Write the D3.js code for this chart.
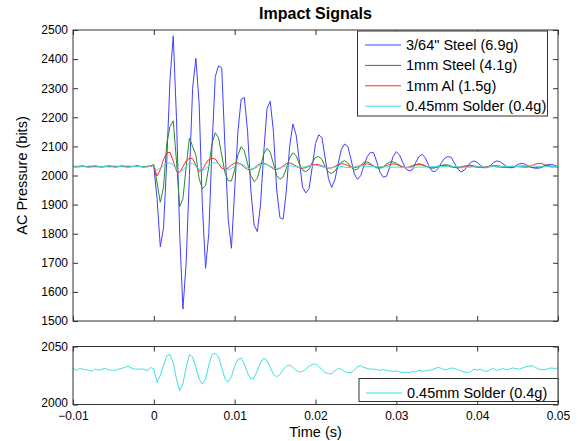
<!DOCTYPE html>
<html>
<head>
<meta charset="utf-8">
<script src="https://cdnjs.cloudflare.com/ajax/libs/d3/7.8.5/d3.min.js"></script>
<style>
    body { margin: 0; background: #fff; }
    svg text { font-family: "Liberation Sans", Arial, Helvetica, sans-serif; fill: #000; }
</style>
</head>
<body>
<div id="chart"></div>
<script>
// sampled signals: first sample at -10 ms, one sample every 0.4 ms
const timeStart = -0.01;
const sampleStep = 0.0004;

const xTicks = [-0.01, 0, 0.01, 0.02, 0.03, 0.04, 0.05];
const topYTicks = [1500, 1600, 1700, 1800, 1900, 2000, 2100, 2200, 2300, 2400, 2500];
const bottomYTicks = [2000, 2050];
const seriesNames = ["3/64\" Steel (6.9g)", "1mm Steel (4.1g)", "1mm Al (1.5g)", "0.45mm Solder (0.4g)"];

const steel364 = [
    2031, 2031, 2030, 2031, 2031, 2032, 2031, 2030, 2031, 2031, 2031, 2030, 2031, 2032, 2031, 2031, 2030, 2031, 2031, 2031, 2032, 2031, 2030, 2031, 2031,
    2031, 1920, 1755, 1820, 2050, 2330, 2480, 2200, 1800, 1541,
    1700, 2000, 2300, 2403, 2250, 1900, 1681, 1800, 2100, 2340,
    2377, 2370, 2100, 1850, 1750, 1950, 2150, 2262, 2268, 2150,
    1950, 1830, 1807, 1900, 2080, 2230, 2255, 2150, 1950, 1855,
    1850, 1950, 2100, 2177, 2140, 2050, 1960, 1940, 1955, 2030,
    2110, 2140, 2130, 2060, 1990, 1959, 1985, 2040, 2090, 2108,
    2100, 2055, 2005, 1987, 2000, 2035, 2065, 2080, 2078, 2045,
    2010, 1994, 1998, 2030, 2065, 2082, 2070, 2045, 2022, 2016,
    2020, 2045, 2065, 2073, 2060, 2035, 2016, 2013, 2025, 2045,
    2060, 2065, 2062, 2042, 2022, 2013, 2018, 2032, 2045, 2050,
    2045, 2035, 2027, 2027, 2033, 2044, 2050, 2048, 2040, 2032,
    2027, 2027, 2034, 2040, 2042, 2038, 2032, 2027, 2025, 2025,
    2028, 2035, 2038, 2038, 2035, 2030
];
const steel1mm = [
    2032, 2031, 2032, 2033, 2031, 2030, 2032, 2033, 2031, 2030, 2032, 2033, 2032, 2030, 2031, 2033, 2032, 2030, 2031, 2032, 2033, 2031, 2030, 2032, 2033,
    2038, 1975, 1908, 1960, 2110, 2168, 2188, 2050, 1893, 1920,
    2030, 2128, 2100, 2070, 1990, 1954, 1965, 2030, 2110, 2147,
    2130, 2070, 2010, 1982, 1981, 2020, 2070, 2099, 2085, 2040,
    2000, 1979, 1990, 2030, 2075, 2093, 2080, 2040, 2000, 1987,
    1995, 2025, 2060, 2078, 2068, 2040, 2018, 2013, 2022, 2045,
    2062, 2065, 2055, 2030, 2012, 2007, 2015, 2032, 2046, 2051,
    2043, 2028, 2019, 2022, 2035, 2045, 2047, 2040, 2032, 2026,
    2025, 2030, 2040, 2046, 2047, 2042, 2035, 2029, 2027, 2029,
    2034, 2038, 2040, 2038, 2033, 2028, 2025, 2026, 2030, 2035,
    2037, 2036, 2032, 2028, 2026, 2027, 2031, 2034, 2035, 2033,
    2030, 2028, 2027, 2028, 2031, 2033, 2034, 2032, 2030, 2028,
    2027, 2028, 2030, 2032, 2033, 2032, 2030, 2028, 2027, 2029,
    2031, 2033, 2034, 2032, 2030, 2029
];
const al1mm = [
    2030, 2029, 2031, 2032, 2030, 2029, 2031, 2032, 2030, 2029, 2030, 2032, 2031, 2029, 2030, 2032, 2031, 2029, 2030, 2031, 2032, 2030, 2029, 2031, 2031,
    2031, 1998, 2020, 2055, 2078, 2080, 2050, 2015, 2010, 2030,
    2050, 2059, 2058, 2035, 2014, 2018, 2040, 2055, 2059, 2057,
    2040, 2025, 2021, 2026, 2036, 2043, 2044, 2038, 2028, 2021,
    2019, 2025, 2035, 2041, 2042, 2038, 2030, 2023, 2021, 2024,
    2033, 2041, 2043, 2039, 2032, 2027, 2025, 2027, 2032, 2036,
    2038, 2038, 2033, 2028, 2025, 2026, 2031, 2037, 2041, 2039,
    2034, 2029, 2027, 2029, 2034, 2038, 2040, 2037, 2032, 2029,
    2028, 2030, 2034, 2038, 2040, 2038, 2033, 2029, 2027, 2029,
    2033, 2036, 2038, 2036, 2032, 2029, 2028, 2029, 2032, 2034,
    2034, 2032, 2029, 2028, 2028, 2030, 2032, 2033, 2032, 2030,
    2028, 2028, 2029, 2031, 2032, 2032, 2030, 2029, 2028, 2029,
    2031, 2032, 2031, 2030, 2029, 2028, 2030, 2034, 2039, 2042,
    2041, 2036, 2031, 2029, 2030, 2031
];
const solder045 = [
    2031.3, 2029.5, 2031, 2030.5, 2030, 2029.5, 2029, 2030.5, 2029.5, 2030.5, 2031, 2030, 2029.5, 2029.5, 2030.5, 2031, 2032, 2033, 2031.5, 2030.5, 2030.5, 2030.5, 2030.5, 2029, 2032,
    2030.5, 2019, 2025, 2034, 2042, 2043, 2036, 2022, 2012, 2018,
    2032, 2043, 2041, 2032, 2022, 2017.5, 2022, 2034, 2043, 2044,
    2041, 2032, 2022, 2019.5, 2024, 2033, 2039, 2040, 2035, 2027,
    2022, 2023, 2029, 2036, 2040, 2038, 2032, 2026, 2024, 2026,
    2030, 2033, 2034, 2032, 2029.5, 2028, 2028.5, 2030.5, 2033, 2034.5,
    2035, 2033, 2030, 2027.5, 2026.5, 2026.5, 2029, 2031, 2030.5, 2028.5,
    2027.5, 2027.5, 2029.5, 2032.5, 2033.5, 2032, 2031, 2030.5, 2030.5, 2030,
    2029.5, 2030, 2029.5, 2029, 2028.5, 2029, 2028, 2027.5, 2028, 2027.5,
    2028.5, 2028, 2029.5, 2028.5, 2029, 2029.5, 2030, 2031, 2032, 2031,
    2030, 2030.5, 2031.5, 2031, 2030, 2029, 2028, 2027.5, 2028.5, 2030.5,
    2029.5, 2030.5, 2029, 2028.5, 2030, 2031, 2029.5, 2030, 2031, 2030,
    2030.5, 2031.5, 2031, 2030.5, 2031.5, 2032.5, 2033, 2033.5, 2032, 2030.5,
    2030, 2030, 2031, 2031.5, 2031, 2031.5
];

const colors = ["#4040ff", "#2a8a2a", "#ff2a2a", "#40e0e0"];

const Plotting = function () {
    const width = 578;
    const height = 441;
    const left = 73, right = 558;
    const topPanel = {top: 30, bottom: 321};
    const bottomPanel = {top: 346.5, bottom: 404.5};
    const tickLen = 5;

    const svg = d3.select("#chart")
                .append("svg")
                .attr("width", width)
                .attr("height", height);

    const xScale = d3.scaleLinear().domain([-0.01, 0.05]).range([left, right]);
    const yTop = d3.scaleLinear().domain([1500, 2500]).range([topPanel.bottom, topPanel.top]);
    const yBottom = d3.scaleLinear().domain([2000, 2050]).range([bottomPanel.bottom, bottomPanel.top]);

    const toPoints = arr => arr.map((v, i) => ({t: timeStart + i * sampleStep, v: v}));

    const drawAxes = function (yScale, panel, yTicks, withXLabels) {
        const yLabels = svg.append("g")
            .attr("transform", `translate(${left},0)`)
            .call(d3.axisLeft(yScale).tickValues(yTicks).tickSizeInner(-tickLen).tickSizeOuter(0).tickPadding(5).tickFormat(d3.format("d")))
            .call(g => g.select(".domain").remove())
            .selectAll("text").style("font-size", "12px");
        if (withXLabels) {
            // lowest label sits just above the corner label -0.01
            yLabels.filter(d => d === yTicks[0]).attr("dy", "0.15em");
        }
        svg.append("g")
            .attr("transform", `translate(${right},0)`)
            .call(d3.axisRight(yScale).tickValues(yTicks).tickSizeInner(-tickLen).tickSizeOuter(0).tickFormat(""))
            .call(g => g.select(".domain").remove());
        svg.append("g")
            .attr("transform", `translate(0,${panel.top})`)
            .call(d3.axisTop(xScale).tickValues(xTicks).tickSizeInner(-tickLen).tickSizeOuter(0).tickFormat(""))
            .call(g => g.select(".domain").remove());
        svg.append("g")
            .attr("transform", `translate(0,${panel.bottom})`)
            .call(d3.axisBottom(xScale).tickValues(xTicks).tickSizeInner(-tickLen).tickSizeOuter(0).tickPadding(7)
                .tickFormat(withXLabels ? d3.format(".2~f") : ""))
            .call(g => g.select(".domain").remove())
            .selectAll("text").style("font-size", "12px");
        svg.selectAll(".tick line").attr("stroke", "#333");
        svg.append("rect")
            .attr("x", left)
            .attr("y", panel.top)
            .attr("width", right - left)
            .attr("height", panel.bottom - panel.top)
            .attr("fill", "none")
            .attr("stroke", "#333")
            .attr("stroke-width", 1);
    };

    const lineTop = d3.line().x(d => xScale(d.t)).y(d => yTop(d.v));
    const lineBottom = d3.line().x(d => xScale(d.t)).y(d => yBottom(d.v));

    [steel364, steel1mm, al1mm, solder045].forEach((arr, i) => {
        svg.append("path")
            .attr("d", lineTop(toPoints(arr)))
            .attr("fill", "none")
            .attr("stroke", colors[i])
            .attr("stroke-width", 1)
            .attr("stroke-linejoin", "round");
    });
    svg.append("path")
        .attr("d", lineBottom(toPoints(solder045)))
        .attr("fill", "none")
        .attr("stroke", colors[3])
        .attr("stroke-width", 1)
        .attr("stroke-linejoin", "round");

    drawAxes(yTop, topPanel, topYTicks, false);
    drawAxes(yBottom, bottomPanel, bottomYTicks, true);

    // legend, top panel
    const legend = svg.append("g");
    legend.append("rect")
        .attr("x", 357.5).attr("y", 31)
        .attr("width", 190).attr("height", 85)
        .attr("fill", "#fff").attr("stroke", "#333");
    seriesNames.forEach((name, i) => {
        const cy = 45 + i * 20.4;
        legend.append("line")
            .attr("x1", 365).attr("x2", 401).attr("y1", cy).attr("y2", cy)
            .attr("stroke", colors[i]).attr("stroke-width", 1);
        legend.append("text")
            .attr("x", 406).attr("y", cy + 5)
            .style("font-size", "14.5px")
            .text(name);
    });

    // legend, bottom panel
    const legend2 = svg.append("g");
    legend2.append("rect")
        .attr("x", 359).attr("y", 378.5)
        .attr("width", 199).attr("height", 23)
        .attr("fill", "#fff").attr("stroke", "#333");
    legend2.append("line")
        .attr("x1", 366).attr("x2", 402).attr("y1", 393).attr("y2", 393)
        .attr("stroke", colors[3]).attr("stroke-width", 1);
    legend2.append("text")
        .attr("x", 407).attr("y", 398)
        .style("font-size", "14.5px")
        .text(seriesNames[3]);

    svg.append("text")
        .attr("x", (left + right) / 2).attr("y", 19)
        .attr("text-anchor", "middle")
        .style("font-size", "16px").style("font-weight", "bold")
        .text("Impact Signals");
    svg.append("text")
        .attr("transform", `translate(27,${(topPanel.top + topPanel.bottom) / 2}) rotate(-90)`)
        .attr("text-anchor", "middle")
        .style("font-size", "14.5px")
        .text("AC Pressure (bits)");
    svg.append("text")
        .attr("x", (left + right) / 2).attr("y", 437)
        .attr("text-anchor", "middle")
        .style("font-size", "14.5px")
        .text("Time (s)");
}

Plotting();
</script>
</body>
</html>
